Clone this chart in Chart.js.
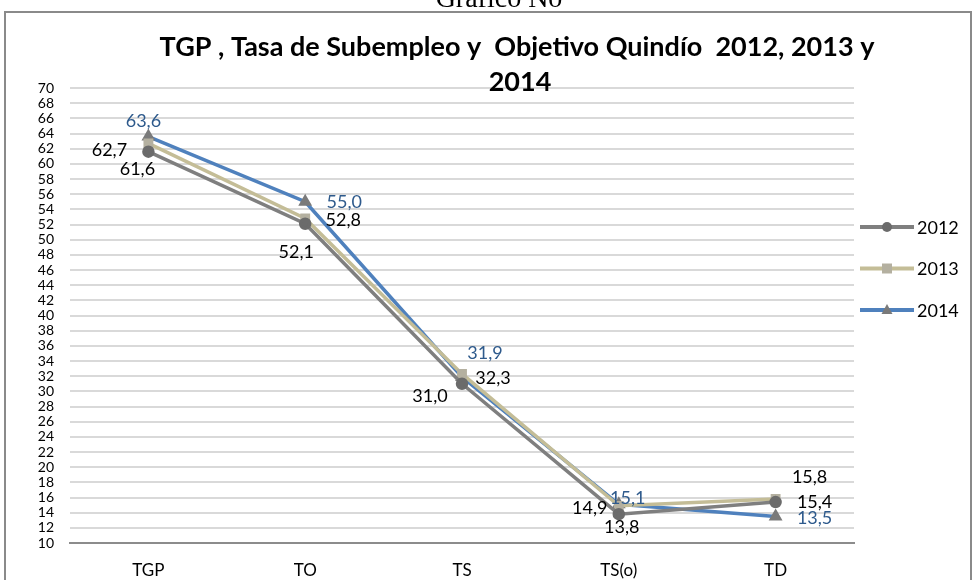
<!DOCTYPE html>
<html lang="es">
<head>
  <meta charset="UTF-8" />
  <title>TGP, Tasa de Subempleo y Objetivo Quindío</title>
  <script src="https://cdn.jsdelivr.net/npm/chart.js"></script>
  <style>
    body { margin: 0; background: #fff; }
  </style>
</head>
<body>
<canvas id="chart" width="977" height="580"></canvas>

<script>
  const categories = ["TGP", "TO", "TS", "TS(o)", "TD"];
  const years = ["2012", "2013", "2014"];
  const values2012 = [61.6, 52.1, 31.0, 13.8, 15.4];
  const values2013 = [62.7, 52.8, 32.3, 14.9, 15.8];
  const values2014 = [63.6, 55.0, 31.9, 15.1, 13.5];

  // where each data label sits relative to its point (px)
  const labelOffsets = [
    [[-11, 17], [-9, 28], [-32, 12], [3, 13], [39, 0]],
    [[-39, 7], [38, 2], [31, 4], [-29, 2], [34, -22]],
    [[-5, -15], [39, 0], [23, -24], [9, -6], [39, 2]]
  ];
  const labelColors = ["#000000", "#000000", "#2e5a8c"];

  const FONT = "Lato, 'Open Sans', sans-serif";

  const frameAndTitle = {
    id: "frameAndTitle",
    beforeDraw(chart) {
      const c = chart.ctx;
      c.save();
      c.fillStyle = "#fff";
      c.fillRect(0, 0, chart.width, chart.height);
      c.strokeStyle = "#8a8a8a";
      c.lineWidth = 2;
      c.strokeRect(5, 12, 966, 590);
      c.fillStyle = "#000";
      c.font = "28px 'Liberation Serif', serif";
      c.textAlign = "center";
      c.textBaseline = "alphabetic";
      c.fillText("Gráfico No", 499, 7);
      c.restore();
    },
    afterDraw(chart) {
      const c = chart.ctx;
      c.save();
      c.fillStyle = "#000";
      c.font = "bold 27px " + FONT;
      c.textAlign = "center";
      c.textBaseline = "middle";
      c.fillText("TGP , Tasa de Subempleo y  Objetivo Quindío  2012, 2013 y", 517, 47);
      c.fillText("2014", 520, 82);

      // legend
      chart.data.datasets.forEach((ds, i) => {
        const y = 227 + i * 41.5;
        c.strokeStyle = ds.borderColor;
        c.lineWidth = 4;
        c.beginPath();
        c.moveTo(860, y);
        c.lineTo(914, y);
        c.stroke();
        drawMarker(c, ds.pointStyle, 887, y, 5, ds.pointBackgroundColor);
        c.fillStyle = "#000";
        c.font = "18px " + FONT;
        c.textAlign = "left";
        c.fillText(ds.label, 917, y + 1);
      });
      c.restore();
    },
    afterDatasetsDraw(chart) {
      const c = chart.ctx;
      c.save();
      c.font = "18px " + FONT;
      c.textAlign = "center";
      c.textBaseline = "middle";
      chart.data.datasets.forEach((ds, i) => {
        chart.getDatasetMeta(i).data.forEach((pt, j) => {
          const off = labelOffsets[i][j];
          c.fillStyle = labelColors[i];
          c.fillText(ds.data[j].toFixed(1).replace(".", ","), pt.x + off[0], pt.y + off[1]);
        });
      });
      c.restore();
    }
  };

  function drawMarker(c, style, x, y, r, color) {
    c.fillStyle = color;
    c.beginPath();
    if (style === "circle") {
      c.arc(x, y, r, 0, Math.PI * 2);
    } else if (style === "rect") {
      c.rect(x - r, y - r, 2 * r, 2 * r);
    } else {
      c.moveTo(x, y - r * 1.2);
      c.lineTo(x + r * 1.1, y + r * 0.8);
      c.lineTo(x - r * 1.1, y + r * 0.8);
      c.closePath();
    }
    c.fill();
  }

  const lineColors = ["#7f7f7f", "#c4bd97", "#4f81bd"];
  const markerColors = ["#6b6b6b", "#b4b0a0", "#7a7a7a"];
  const markerStyles = ["circle", "rect", "triangle"];
  const seriesValues = [values2012, values2013, values2014];

  new Chart(document.getElementById("chart"), {
    type: "line",
    data: {
      labels: categories,
      datasets: years.map((y, i) => ({
        label: y,
        data: seriesValues[i],
        borderColor: lineColors[i],
        borderWidth: 3.5,
        pointStyle: markerStyles[i],
        pointRadius: 4.5,
        pointBackgroundColor: markerColors[i],
        pointBorderColor: markerColors[i],
        tension: 0
      }))
    },
    options: {
      responsive: false,
      animation: false,
      layout: { padding: { top: 88, right: 123, bottom: 0, left: 0 } },
      plugins: {
        legend: { display: false },
        title: { display: false },
        tooltip: { enabled: false }
      },
      scales: {
        x: {
          offset: true,
          grid: { display: false, drawTicks: false },
          border: { color: "#8c8c8c", width: 2 },
          ticks: { color: "#000", font: { family: FONT, size: 17 }, padding: 17 },
          afterFit: s => { s.height = 37; }
        },
        y: {
          min: 10,
          max: 70,
          grid: { color: "#d9d9d9", lineWidth: 2, drawTicks: false },
          border: { display: false },
          ticks: { stepSize: 2, autoSkip: false, color: "#000", font: { family: FONT, size: 14 }, padding: 16 },
          afterFit: s => { s.width = 70; }
        }
      }
    },
    plugins: [frameAndTitle]
  });
</script>
</body>
</html>
